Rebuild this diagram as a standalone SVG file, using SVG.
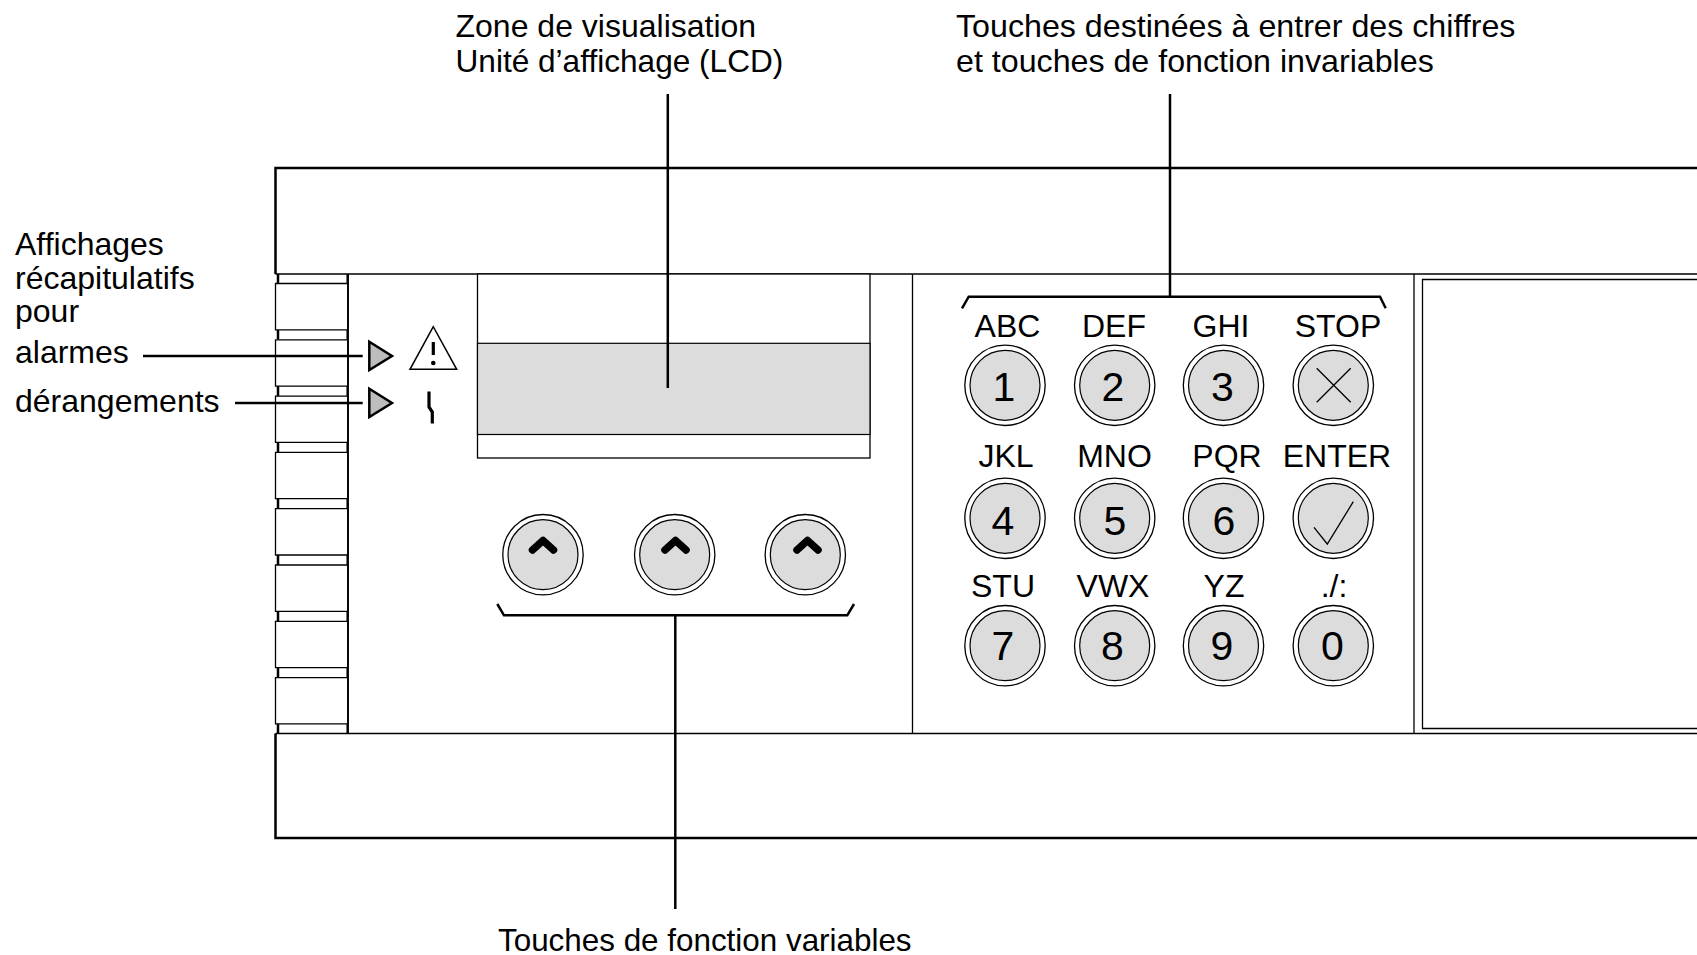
<svg xmlns="http://www.w3.org/2000/svg" width="1697" height="955" viewBox="0 0 1697 955">
<defs><style>
text{font-family:"Liberation Sans",Arial,sans-serif;font-size:32px;fill:#000}
.k{text-anchor:middle}
.n{text-anchor:middle;font-size:41px}
.l{fill:none;stroke:#000;stroke-width:1.3}
.h{fill:none;stroke:#000;stroke-width:2.5}
.g{fill:#dcdcdc;stroke:#000;stroke-width:1.2}
.o{fill:#fff;stroke:#000;stroke-width:1.3}
.t{fill:#bdbdbd;stroke:#000;stroke-width:2.5}
</style>
<g id="btn"><circle class="o" r="40.2"/><circle class="g" r="35"/></g>
<path id="tab" class="o" d="M0 0H72.2V46.3H0Z"/>
<path id="chev" d="M-10.5 10L0 0.500L10.500 10" fill="none" stroke="#000" stroke-width="7.500" stroke-linecap="round" stroke-linejoin="round"/>
</defs>
<rect width="1697" height="955" fill="#fff"/>
<g id="housing">
<path class="h" d="M1697 168H275.5V274M275.5 733.5V838H1697"/>
<path class="l" d="M275.5 274H1697M275.5 733.5H1697"/>
<path class="l" d="M912.5 274V733.5M1414 274V733.5M1697 279.500H1422.500V728.5H1697"/>
<path class="h" d="M278 274V284M278 330V339.500M278 386V396M278 442V452M278 498.500V509M278 555V565M278 611V621.500M278 667.500V677.500M278 723.500V733.500"/>
<path class="h" d="M347.700 274V733.500"/>
</g>
<g id="tabs">
<use href="#tab" x="275.5" y="283.500"/><use href="#tab" x="275.5" y="339.800"/><use href="#tab" x="275.5" y="396.100"/><use href="#tab" x="275.5" y="452.400"/><use href="#tab" x="275.5" y="508.700"/><use href="#tab" x="275.5" y="565"/><use href="#tab" x="275.5" y="621.300"/><use href="#tab" x="275.5" y="677.600"/>
</g>
<g id="lcd">
<rect class="o" x="477.500" y="274" width="392.500" height="184"/>
<rect class="g" x="477.500" y="343.300" width="392.500" height="91.200"/>
</g>
<g id="led-alarm"><path class="t" d="M369.300 341.700L392 356L369.300 370Z"/></g>
<g id="led-fault"><path class="t" d="M369.300 388.700L392 403L369.300 417Z"/></g>
<g id="icon-alarm">
<path d="M433.300 326.700L410 369.300H456.700Z" fill="none" stroke="#000" stroke-width="1.500"/>
<path d="M433.300 342V355" stroke="#000" stroke-width="3.200" fill="none"/><circle cx="433.300" cy="363" r="2.300"/>
</g>
<g id="icon-fault"><path d="M429 391.500V407L432.300 412V423.500" fill="none" stroke="#000" stroke-width="3.200"/></g>
<g id="softkeys">
<g id="sk1"><use href="#btn" x="543" y="554.700"/><use href="#chev" x="543" y="540"/></g>
<g id="sk2"><use href="#btn" x="674.700" y="554.700"/><use href="#chev" x="675.500" y="540"/></g>
<g id="sk3"><use href="#btn" x="805.300" y="554.700"/><use href="#chev" x="807.500" y="540"/></g>
</g>
<g id="keypad">
<g id="k1"><use href="#btn" x="1005" y="385.300"/><text class="n" x="1004" y="401">1</text></g>
<g id="k2"><use href="#btn" x="1114.700" y="385.300"/><text class="n" x="1113" y="401">2</text></g>
<g id="k3"><use href="#btn" x="1223.500" y="385.300"/><text class="n" x="1222.500" y="401">3</text></g>
<g id="kstop"><use href="#btn" x="1333.300" y="385.300"/><path class="l" d="M1316.700 368.300L1350.700 402.300M1350.700 368.300L1316.700 402.300"/></g>
<g id="k4"><use href="#btn" x="1005" y="518.300"/><text class="n" x="1003" y="535">4</text></g>
<g id="k5"><use href="#btn" x="1114.700" y="518.300"/><text class="n" x="1115" y="535">5</text></g>
<g id="k6"><use href="#btn" x="1223.500" y="518.300"/><text class="n" x="1224" y="535">6</text></g>
<g id="kenter"><use href="#btn" x="1333.300" y="518.300"/><path class="l" d="M1314 527.300L1327.300 544L1353.300 501.700"/></g>
<g id="k7"><use href="#btn" x="1005" y="645.700"/><text class="n" x="1003" y="659.500">7</text></g>
<g id="k8"><use href="#btn" x="1114.700" y="645.700"/><text class="n" x="1112.500" y="659.500">8</text></g>
<g id="k9"><use href="#btn" x="1223.500" y="645.700"/><text class="n" x="1222" y="659.500">9</text></g>
<g id="k0"><use href="#btn" x="1333.300" y="645.700"/><text class="n" x="1332.500" y="659.500">0</text></g>
</g>
<g id="key-labels">
<text class="k" x="1007.500" y="337">ABC</text><text class="k" x="1114" y="337">DEF</text><text class="k" x="1221" y="337">GHI</text><text class="k" x="1338" y="337">STOP</text>
<text class="k" x="1006" y="467">JKL</text><text class="k" x="1114.500" y="467">MNO</text><text class="k" x="1227" y="467">PQR</text><text class="k" x="1337" y="467">ENTER</text>
<text class="k" x="1003" y="597">STU</text><text class="k" x="1113" y="597">VWX</text><text class="k" x="1224" y="597">YZ</text><text class="k" x="1334" y="597">./:</text>
</g>
<g id="connectors">
<path class="h" d="M667.800 94V388"/>
<path class="h" d="M1170 94V296.700"/>
<path class="h" d="M962 308.300L968.700 296.700H1380L1385.700 308.300"/>
<path class="h" d="M497.300 604L504 615.300H847.300L854 604"/>
<path class="h" d="M675.300 615.300V909"/>
<path class="h" d="M143 356H362.700"/>
<path class="h" d="M235 403H362.700"/>
</g>
<g id="callouts">
<text x="455.500" y="37">Zone de visualisation</text>
<text x="455.500" y="71.500" style="font-size:31.600px">Unité d’affichage (LCD)</text>
<text x="956" y="37" style="font-size:32.200px">Touches destinées à entrer des chiffres</text>
<text x="956" y="71.500" style="font-size:32.200px">et touches de fonction invariables</text>
<text x="15" y="255">Affichages</text>
<text x="15" y="288.500">récapitulatifs</text>
<text x="15" y="321.500">pour</text>
<text x="15" y="363">alarmes</text>
<text x="15" y="412">dérangements</text>
<text x="498" y="951" style="font-size:31.400px">Touches de fonction variables</text>
</g>
</svg>
